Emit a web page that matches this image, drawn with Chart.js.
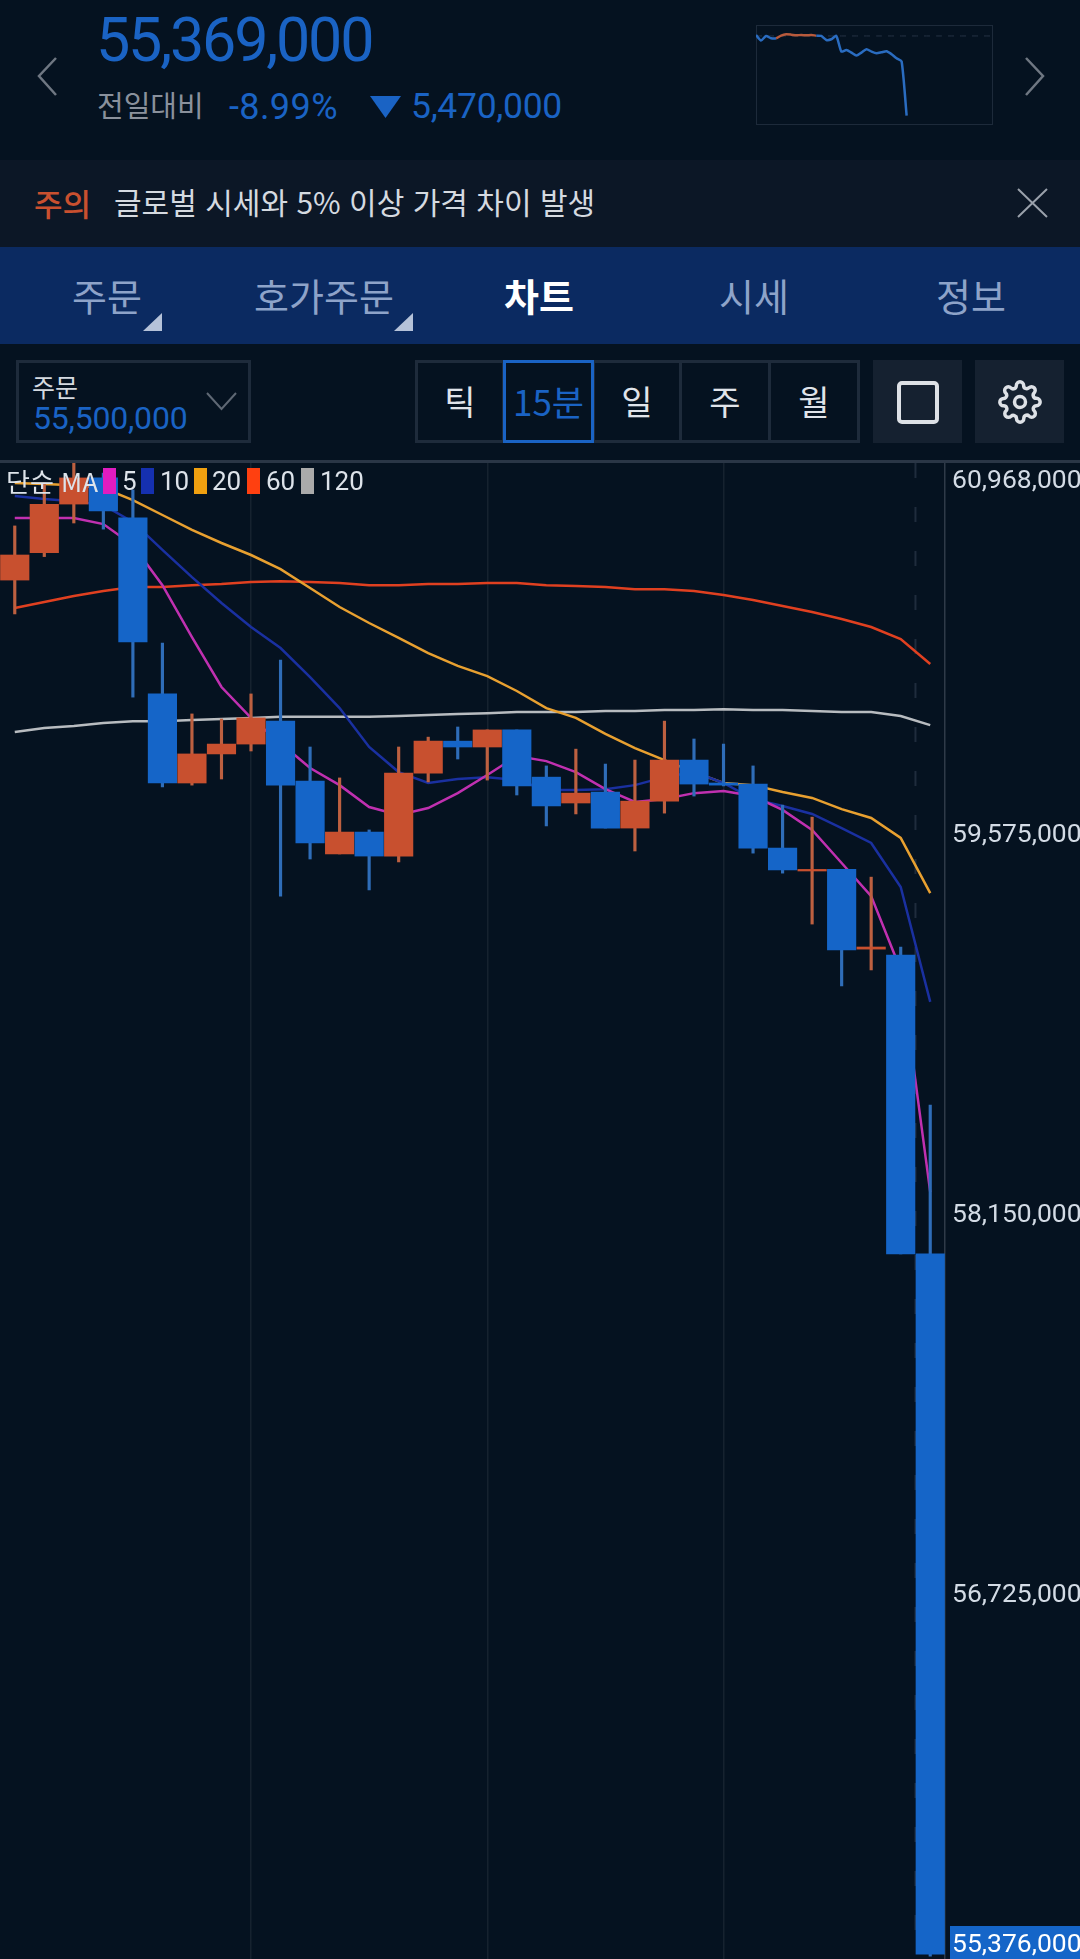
<!DOCTYPE html>
<html lang="ko">
<head>
<meta charset="utf-8">
<title>차트</title>
<script src="https://cdn.jsdelivr.net/npm/chart.js@4"></script>
<style>
  html, body { margin: 0; padding: 0; background: #051220; }
  body { position: relative; width: 1080px; height: 1959px; overflow: hidden; font-family: Roboto, "Noto Sans CJK KR", sans-serif; }
  .abs { position: absolute; white-space: nowrap; line-height: 1; }
  .band { position: absolute; left: 0; width: 1080px; }
  .blue { color: #1a63c4; }
  .tab { position: absolute; top: 272px; width: 200px; text-align: center; font-size: 38px; line-height: 46px; color: #8ea3c9; font-family: "Noto Sans CJK KR", sans-serif; }
  .cell { position: absolute; top: 360px; height: 83px; box-sizing: border-box; border: 3px solid #1e2b3b; text-align: center; font-size: 34px; line-height: 75px; color: #e0e4ea; font-family: "Noto Sans CJK KR", sans-serif; }
  .btn { position: absolute; top: 360px; height: 83px; width: 89px; background: #152130; }
  canvas { position: absolute; display: block; }
  .swatch { position: absolute; top: 468px; width: 13px; height: 26px; }
  .leg { position: absolute; top: 468px; font-size: 26px; line-height: 26px; color: #dde3ea; }
</style>
</head>
<body>

<!-- 상단 시세 -->
<svg class="abs" style="left:36px;top:56px" width="22" height="41" fill="none" stroke="#6f7782" stroke-width="2.5"><path d="M20 2 L3 20 L20 39"/></svg>
<svg class="abs" style="left:1024px;top:56px" width="22" height="41" fill="none" stroke="#6f7782" stroke-width="2.5"><path d="M2 2 L19 20 L2 39"/></svg>
<div class="abs blue" style="left:96px;top:10px;font-size:61px;letter-spacing:-2.2px">55,369,000</div>
<div class="abs" style="left:97px;top:90px;font-size:29px;color:#8a919c;font-family:'Noto Sans CJK KR'">전일대비</div>
<div class="abs blue" style="left:229px;top:89px;font-size:36px;letter-spacing:.4px">-8.99%</div>
<svg class="abs" style="left:370px;top:96px" width="32" height="23"><path d="M0 0 H31 L15.5 22 Z" fill="#1a63c4"/></svg>
<div class="abs blue" style="left:411px;top:89px;font-size:35.5px;letter-spacing:-.3px">5,470,000</div>

<div class="abs" style="left:756px;top:25px;width:237px;height:100px;box-sizing:border-box;border:1px solid #1d2a3a"></div>
<canvas id="sparkChart" width="236" height="99" style="left:756px;top:25px"></canvas>

<!-- 주의 -->
<div class="band" style="top:160px;height:87px;background:#0c1726"></div>
<div class="abs" style="left:34px;top:187px;font-size:31px;font-weight:500;color:#c9502f;font-family:'Noto Sans CJK KR'">주의</div>
<div class="abs" style="left:114px;top:186px;font-size:30px;color:#d5dae0;font-family:'Noto Sans CJK KR'">글로벌 시세와 5% 이상 가격 차이 발생</div>
<svg class="abs" style="left:1017px;top:188px" width="31" height="30" fill="none" stroke="#9aa1ab" stroke-width="2"><path d="M1 1 L30 29 M30 1 L1 29"/></svg>

<!-- 탭 -->
<div class="band" style="top:247px;height:97px;background:#0b2a61"></div>
<div class="tab" style="left:7px">주문</div>
<div class="tab" style="left:224px">호가주문</div>
<div class="tab" style="left:439px;color:#fff;font-weight:700">차트</div>
<div class="tab" style="left:654px">시세</div>
<div class="tab" style="left:871px">정보</div>
<svg class="abs" style="left:143px;top:313px" width="19" height="18"><path d="M19 0 V18 H0 Z" fill="#b5c2d9"/></svg>
<svg class="abs" style="left:394px;top:313px" width="19" height="18"><path d="M19 0 V18 H0 Z" fill="#b5c2d9"/></svg>

<!-- 툴바 -->
<div class="abs" style="left:16px;top:360px;width:235px;height:83px;box-sizing:border-box;border:3px solid #1e2b3b"></div>
<div class="abs" style="left:32px;top:374px;font-size:25px;color:#d5dae0;font-family:'Noto Sans CJK KR'">주문</div>
<div class="abs blue" style="left:33px;top:402px;font-size:32px;letter-spacing:-.2px">55,500,000</div>
<svg class="abs" style="left:206px;top:392px" width="31" height="19" fill="none" stroke="#5f6874" stroke-width="2"><path d="M1 1 L15.5 17 L30 1"/></svg>

<div class="cell" style="left:415px;width:90px">틱</div>
<div class="cell" style="left:592px;width:90px">일</div>
<div class="cell" style="left:679px;width:92px">주</div>
<div class="cell" style="left:768px;width:92px">월</div>
<div class="cell" style="left:503px;width:91px;border-color:#1a63c4;color:#1a63c4;font-size:35px;white-space:nowrap">15분</div>

<div class="btn" style="left:873px"></div>
<div class="abs" style="left:897px;top:381px;width:42px;height:43px;box-sizing:border-box;border:4px solid #dde1e6;border-radius:5px"></div>
<div class="btn" style="left:975px"></div>
<svg class="abs" style="left:998px;top:380px" width="44" height="44" viewBox="0 0 24 24" fill="none" stroke="#dde1e6" stroke-width="1.9"><circle cx="12" cy="12" r="3"/><path d="M19.4 15a1.65 1.65 0 0 0 .33 1.82l.06.06a2 2 0 0 1 0 2.83 2 2 0 0 1-2.83 0l-.06-.06a1.65 1.65 0 0 0-1.82-.33 1.65 1.65 0 0 0-1 1.51V21a2 2 0 0 1-2 2 2 2 0 0 1-2-2v-.09A1.65 1.65 0 0 0 9 19.4a1.65 1.65 0 0 0-1.82.33l-.06.06a2 2 0 0 1-2.83 0 2 2 0 0 1 0-2.83l.06-.06a1.65 1.65 0 0 0 .33-1.82 1.65 1.65 0 0 0-1.51-1H3a2 2 0 0 1-2-2 2 2 0 0 1 2-2h.09A1.65 1.65 0 0 0 4.6 9a1.65 1.65 0 0 0-.33-1.82l-.06-.06a2 2 0 0 1 0-2.83 2 2 0 0 1 2.83 0l.06.06a1.65 1.65 0 0 0 1.82.33H9a1.65 1.65 0 0 0 1-1.51V3a2 2 0 0 1 2-2 2 2 0 0 1 2 2v.09a1.65 1.65 0 0 0 1 1.51 1.65 1.65 0 0 0 1.82-.33l.06-.06a2 2 0 0 1 2.83 0 2 2 0 0 1 0 2.83l-.06.06a1.65 1.65 0 0 0-.33 1.82V9a1.65 1.65 0 0 0 1.51 1H21a2 2 0 0 1 2 2 2 2 0 0 1-2 2h-.09a1.65 1.65 0 0 0-1.51 1z"/></svg>

<div class="band" style="top:460px;height:3px;background:#2a3646"></div>

<!-- 차트 -->
<canvas id="candleChart" width="1080" height="1496" style="left:0;top:463px"></canvas>

<!-- 범례 -->
<div class="leg" style="left:6px;font-family:'Noto Sans CJK KR',Roboto">단순 MA</div>
<div class="swatch" style="left:103px;background:#e01cc0"></div><div class="leg" style="left:122px">5</div>
<div class="swatch" style="left:141px;background:#1530b0"></div><div class="leg" style="left:160px">10</div>
<div class="swatch" style="left:194px;background:#f0a010"></div><div class="leg" style="left:212px">20</div>
<div class="swatch" style="left:247px;background:#ff4010"></div><div class="leg" style="left:266px">60</div>
<div class="swatch" style="left:301px;background:#aaaaaa"></div><div class="leg" style="left:320px">120</div>

<script>
// 15분봉 가격 (눈으로 읽은 값)
const slots = ['0','1','2','3','4','5','6','7','8','9','10','11','12','13','14','15','16','17','18','19','20','21','22','23','24','25','26','27','28','29','30','31'];
const opens  = [60529000,60632000,60814000,60912000,60762000,60102000,59768000,59877000,59914000,60000000,59775000,59502000,59584000,59494000,59805000,59925000,59903000,59967000,59790000,59693000,59734000,59599000,59700000,59854000,59768000,59764000,59524000,59438000,59444000,59145000,59123000,58002000];
const closes = [60623000,60813000,60912000,60788000,60297000,59768000,59877000,59914000,60012000,59760000,59543000,59584000,59494000,59805000,59925000,59903000,59967000,59757000,59682000,59730000,59599000,59700000,59854000,59764000,59760000,59524000,59442000,59444000,59142000,59153000,58002000,55376000];
const highs  = [60732000,60893000,60968000,60930000,60867000,60293000,60027000,60008000,60102000,60229000,59903000,59787000,59592000,59903000,59940000,59978000,59967000,59967000,59832000,59895000,59839000,59854000,60000000,59933000,59914000,59832000,59685000,59640000,59444000,59415000,59153000,58560000];
const lows   = [60402000,60617000,60743000,60720000,60090000,59753000,59760000,59783000,59888000,59344000,59483000,59502000,59367000,59472000,59772000,59858000,59779000,59723000,59607000,59652000,59599000,59513000,59655000,59719000,59757000,59505000,59430000,59239000,59007000,59067000,58002000,55369000];

// 이동평균
const ma5   = [60762000,60762000,60762000,60739000,60660000,60510000,60315000,60128000,60012000,59918000,59824000,59760000,59678000,59648000,59674000,59730000,59798000,59869000,59850000,59809000,59745000,59697000,59708000,59730000,59738000,59719000,59667000,59592000,59468000,59344000,59067000,58234000];
const ma10  = [60844000,60833000,60825000,60810000,60747000,60642000,60540000,60443000,60353000,60274000,60165000,60049000,59903000,59809000,59768000,59783000,59790000,59779000,59742000,59742000,59745000,59760000,59790000,59809000,59768000,59708000,59682000,59652000,59599000,59543000,59378000,58947000];
const ma20  = [60893000,60889000,60885000,60874000,60829000,60773000,60717000,60668000,60623000,60570000,60499000,60428000,60368000,60312000,60255000,60207000,60169000,60113000,60049000,60012000,59952000,59899000,59854000,59809000,59768000,59760000,59734000,59712000,59670000,59637000,59562000,59355000];
const ma60  = [60424000,60447000,60469000,60488000,60503000,60503000,60510000,60514000,60522000,60525000,60522000,60518000,60510000,60510000,60514000,60514000,60518000,60518000,60510000,60507000,60503000,60495000,60495000,60488000,60473000,60454000,60432000,60409000,60383000,60353000,60308000,60214000];
const ma120 = [59959000,59974000,59982000,59993000,60000000,60000000,60004000,60008000,60012000,60016000,60016000,60016000,60016000,60019000,60023000,60027000,60030000,60034000,60034000,60034000,60038000,60038000,60042000,60042000,60045000,60042000,60042000,60038000,60034000,60034000,60019000,59985000];

const priceTicks = [60968000,59575000,58150000,56725000,55376000];
const gridSlots = [8,16,24];
const dayBreakSlot = 30.5;

// 미니 차트
const sparkSlots = ['0','1','2','3','4','5','6','7','8','9','10','11','12','13','14','15','16','17','18','19','20','21','22','23','24','25','26','27','28','29','30','31','32','33','34','35','36','37','38','39','40','41','42','43','44','45','46','47'];
const sparkPrices = [60907000,60520000,60839000,60679000,60679000,60862000,60953000,60930000,60885000,60907000,60885000,60907000,60862000,60839000,60566000,60611000,60839000,59768000,59882000,59699000,59494000,59699000,59927000,59768000,59654000,59722000,59791000,59586000,59312000,59084000,55369000];
const prevClose = 60839000;

const UP_COLOR = '#c8502f';
const DOWN_COLOR = '#1565c8';
const UP_WICK = '#bd6040';
const DOWN_WICK = '#2f6db8';

const isUp = slots.map(function(s, i) { return closes[i] >= opens[i]; });

function maLine(label, data, color) {
    return {
        type: 'line',
        label: label,
        data: data,
        borderColor: color,
        borderWidth: 2.5,
        pointRadius: 0,
        tension: 0,
        order: 3
    };
}

// 오른쪽 가격 라벨: 위/아래 끝 라벨은 영역 안으로 밀어 넣는다
const priceLabels = {
    id: 'priceLabels',
    afterDraw: function(chart) {
        const scale = chart.scales.y;
        const c = chart.ctx;
        c.save();
        c.font = '26.5px Roboto';
        c.textBaseline = 'middle';
        c.textAlign = 'left';
        priceTicks.forEach(function(value, i) {
            const y = Math.max(17, Math.min(chart.height - 15, scale.getPixelForValue(value)));
            if (i === priceTicks.length - 1) {
                c.fillStyle = '#1565c8';
                c.fillRect(950, y - 18, 130, 33);
                c.fillStyle = '#ffffff';
            } else {
                c.fillStyle = '#d3dbe5';
            }
            c.fillText(value.toLocaleString('en-US'), 952, y + 1);
        });
        c.restore();
    }
};

// 일자 구분 점선
const dayBreak = {
    id: 'dayBreak',
    beforeDatasetsDraw: function(chart) {
        const xs = chart.scales.x;
        const x = (xs.getPixelForValue(Math.floor(dayBreakSlot)) + xs.getPixelForValue(Math.ceil(dayBreakSlot))) / 2;
        const c = chart.ctx;
        c.save();
        c.strokeStyle = '#1f2c3c';
        c.lineWidth = 2;
        c.setLineDash([15, 29]);
        c.beginPath();
        c.moveTo(x, chart.chartArea.top);
        c.lineTo(x, chart.chartArea.bottom);
        c.stroke();
        c.restore();
    }
};

new Chart(document.getElementById('candleChart'), {
    type: 'bar',
    data: {
        labels: slots,
        datasets: [
            {
                label: 'body',
                data: slots.map(function(s, i) { return [opens[i], closes[i]]; }),
                backgroundColor: isUp.map(function(up) { return up ? UP_COLOR : DOWN_COLOR; }),
                barThickness: 28.5,
                grouped: false,
                order: 1
            },
            {
                label: 'wick',
                data: slots.map(function(s, i) { return [lows[i], highs[i]]; }),
                backgroundColor: isUp.map(function(up) { return up ? UP_WICK : DOWN_WICK; }),
                barThickness: 2.5,
                grouped: false,
                order: 2
            },
            maLine('MA 5', ma5, '#c030b0'),
            maLine('MA 10', ma10, '#1a30a0'),
            maLine('MA 20', ma20, '#e8a030'),
            maLine('MA 60', ma60, '#e04020'),
            maLine('MA 120', ma120, '#b8bcc0')
        ]
    },
    options: {
        responsive: false,
        animation: false,
        devicePixelRatio: 1,
        layout: { padding: 0 },
        plugins: { legend: { display: false }, tooltip: { enabled: false } },
        scales: {
            x: {
                offset: true,
                border: { display: false },
                ticks: { display: false, autoSkip: false },
                grid: {
                    offset: false,
                    drawTicks: false,
                    tickLength: 0,
                    lineWidth: 1.5,
                    color: function(ctx) {
                        return gridSlots.indexOf(ctx.index) >= 0 ? '#16222f' : 'rgba(0,0,0,0)';
                    }
                }
            },
            y: {
                position: 'right',
                min: 55358000,
                max: 60968000,
                border: { display: true, color: '#2f3a48', width: 1.5 },
                grid: { display: false },
                ticks: { display: false },
                afterBuildTicks: function(scale) {
                    scale.ticks = priceTicks.map(function(v) { return { value: v }; });
                },
                afterFit: function(scale) { scale.width = 135; }
            }
        }
    },
    plugins: [dayBreak, priceLabels]
});

new Chart(document.getElementById('sparkChart'), {
    type: 'line',
    data: {
        labels: sparkSlots,
        datasets: [
            {
                data: sparkPrices,
                borderColor: '#2a6cc0',
                borderWidth: 2.5,
                pointRadius: 0,
                tension: 0.2,
                segment: {
                    borderColor: function(ctx) {
                        return ctx.p1.parsed.y > prevClose ? '#b85a3c' : '#2a6cc0';
                    }
                },
                order: 1
            },
            {
                data: sparkSlots.map(function() { return prevClose; }),
                borderColor: '#263344',
                borderWidth: 1,
                borderDash: [6, 6],
                pointRadius: 0,
                order: 2
            }
        ]
    },
    options: {
        responsive: false,
        animation: false,
        devicePixelRatio: 1,
        layout: { padding: 0 },
        plugins: { legend: { display: false }, tooltip: { enabled: false } },
        scales: {
            x: { display: false, offset: false },
            y: { display: false, min: 54799000, max: 61591000 }
        }
    }
});
</script>
</body>
</html>
